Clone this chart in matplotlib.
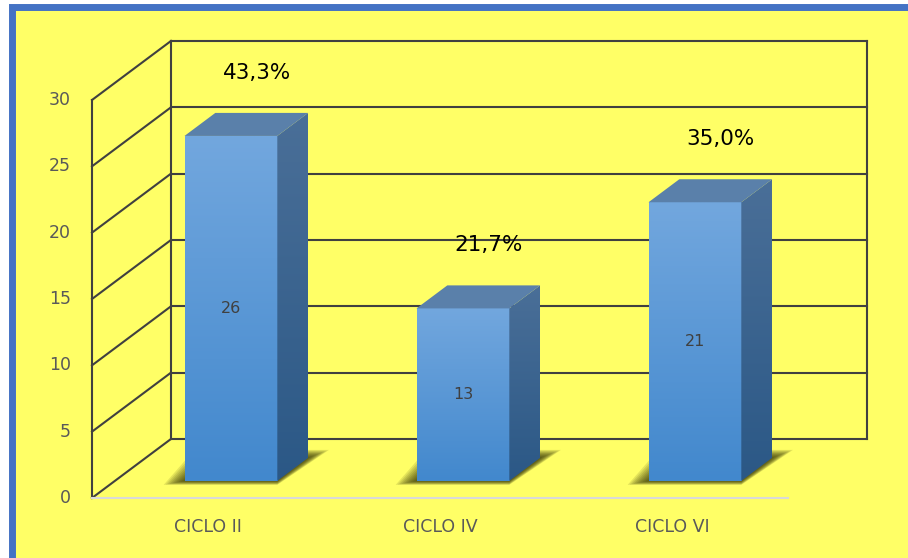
import numpy as np
import matplotlib.pyplot as plt
from matplotlib.patches import Polygon, Rectangle
from matplotlib.colors import LinearSegmentedColormap

# ============================================================
# DATA
# ============================================================
categories = ["CICLO II", "CICLO IV", "CICLO VI"]
counts = [26, 13, 21]
pct_labels = ["43,3%", "21,7%", "35,0%"]
y_ticks = [0, 5, 10, 15, 20, 25, 30]

# pseudo-3D box geometry (data units: x = category slot, y = value)
DX, DY = 0.3405, 4.45      # full depth of the box
F0, F1 = 0.29, 0.68        # depth slice occupied by the bars
W = 0.4                    # bar width
WALL = "#404040"

front_cmap = LinearSegmentedColormap.from_list("front", ["#4288CD", "#72A7DE"])
side_cmap = LinearSegmentedColormap.from_list("side", ["#2B5886", "#4A6F98"])

# ============================================================
# FIGURE
# ============================================================
fig = plt.figure(figsize=(9.08, 5.58), dpi=100)
fig.patch.set_facecolor("white")
fig.patches.append(Rectangle((0.0127, -0.05), 1.1, 0.05 + 0.9875,
                             transform=fig.transFigure, facecolor="#FFFF66",
                             edgecolor="#4472C4", linewidth=5, zorder=-10))

ax = fig.add_axes([0, 0, 1, 1])
ax.set_axis_off()
ax.patch.set_alpha(0)

# walls (left side + back) and gridlines
for v in y_ticks:
    ax.plot([0, DX], [v, v + DY], color=WALL, lw=1.5, zorder=1)
    ax.plot([DX, 3 + DX], [v + DY, v + DY], color=WALL, lw=1.5, zorder=1)
    ax.text(-0.09, v, str(v), ha="right", va="center", fontsize=12.5, color="#595959")
ax.plot([0, 0], [0, y_ticks[-1]], color=WALL, lw=1.5, zorder=1)
ax.plot([DX, DX], [DY, y_ticks[-1] + DY], color=WALL, lw=1.5, zorder=1)
ax.plot([3 + DX, 3 + DX], [DY, y_ticks[-1] + DY], color=WALL, lw=1.5, zorder=1)
ax.plot([0, len(categories)], [0, 0], color="#d9d9d9", lw=1.5, zorder=1)

ddx, ddy = (F1 - F0) * DX, (F1 - F0) * DY
for i, (cat, v, pct) in enumerate(zip(categories, counts, pct_labels)):
    x0 = i + 0.5 - W / 2 + F0 * DX
    b = F0 * DY
    top = b + v

    # soft shadow on the floor
    n = 10
    for k in range(n):
        s = 1 - k / n
        ex = 0.09 * s
        eb = 0.3 * s
        et = 0.6 * s
        ax.add_patch(Polygon([(x0 - ex, b - eb), (x0 + W, b - eb),
                              (x0 + W + ddx + ex, b + ddy + et), (x0 + ddx - ex, b + ddy + et)],
                             closed=True, facecolor="#2a2a00", edgecolor="none",
                             alpha=0.12, zorder=2))

    # front face
    grad = np.linspace(0, 1, 200).reshape(-1, 1)
    ax.imshow(grad, extent=[x0, x0 + W, b, top], origin="lower", cmap=front_cmap,
              aspect="auto", zorder=3, interpolation="bilinear")
    # side face
    side = Polygon([(x0 + W, b), (x0 + W + ddx, b + ddy), (x0 + W + ddx, top + ddy), (x0 + W, top)],
                   closed=True, transform=ax.transData)
    im = ax.imshow(grad, extent=[x0 + W, x0 + W + ddx, b, top + ddy], origin="lower",
                   cmap=side_cmap, aspect="auto", zorder=3, interpolation="bilinear")
    im.set_clip_path(side)
    # top face
    ax.add_patch(Polygon([(x0, top), (x0 + W, top), (x0 + W + ddx, top + ddy), (x0 + ddx, top + ddy)],
                         closed=True, facecolor="#5A80AA", edgecolor="none", zorder=4))

    ax.text(x0 + W / 2, b + v / 2, str(v), ha="center", va="center", fontsize=11.5,
            color="#404040", zorder=5)
    ax.text(i + 0.71, top + 4.75, pct, ha="center", va="center", fontsize=15.5,
            color="black", zorder=5)
    ax.text(i + 0.5, -2.2, cat, ha="center", va="center", fontsize=12.5, color="#595959")

ax.set_xlim(-92 / 232, 816 / 232)
ax.set_ylim(-60 / 13.267, 498 / 13.267)

fig.savefig("out.png", dpi=100, facecolor=fig.get_facecolor())
